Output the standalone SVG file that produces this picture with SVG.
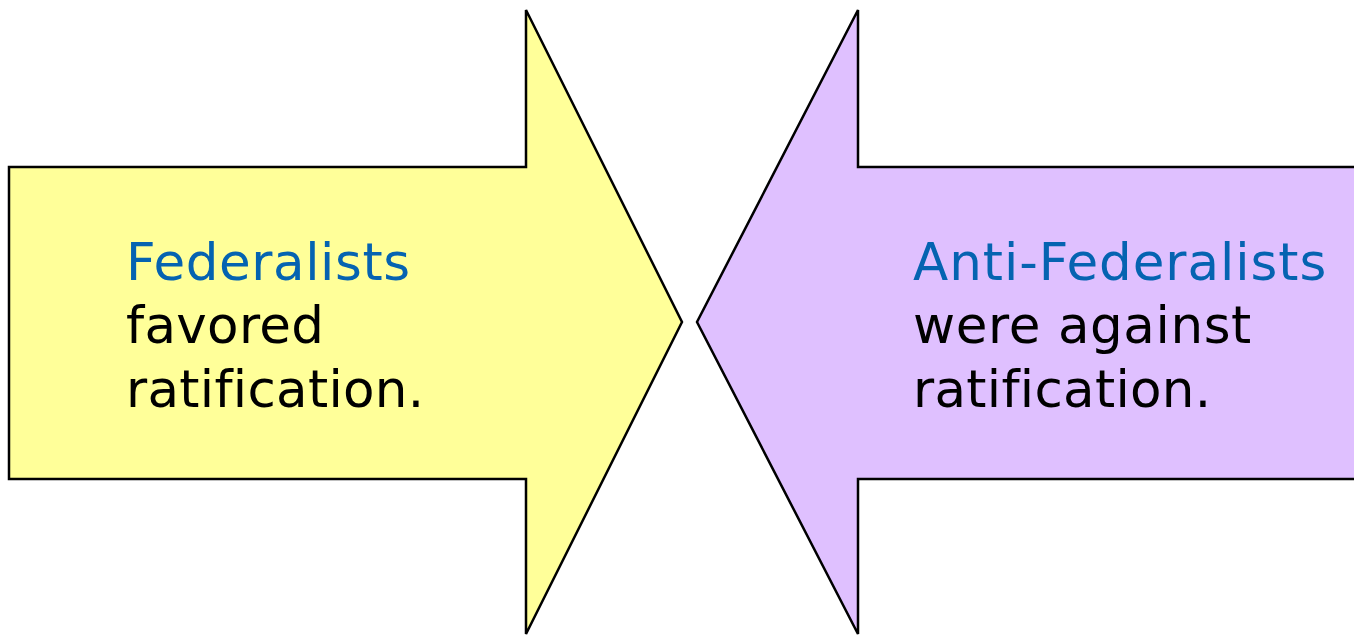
<svg xmlns="http://www.w3.org/2000/svg" width="1354" height="635" viewBox="0 0 1354 635">
<style>
.shape{stroke:#000;stroke-width:2.5;stroke-linejoin:miter}
.t{font-family:"DejaVu Sans",Verdana,sans-serif;font-size:51.5px;letter-spacing:0.3px;font-variant-ligatures:none}
.blue{fill:#0563B1}
.blk{fill:#000}
</style>
<rect width="1354" height="635" fill="#fff"/>
<g id="federalists">
<polygon class="shape" fill="#FFFF99" points="9,167 526,167 526,10 682,322 526,634 526,479 9,479"/>
<text class="t blue" x="126" y="280" style="letter-spacing:0.6px">Federalists</text>
<text class="t blk" x="126" y="343">favored</text>
<text class="t blk" x="126" y="407">ratification.</text>
</g>
<g id="anti-federalists">
<polygon class="shape" fill="#DFC0FF" points="1360,167 858,167 858,10 697,322 858,634 858,479 1360,479"/>
<text class="t blue" x="913" y="280" style="letter-spacing:0.95px">Anti-Federalists</text>
<text class="t blk" x="913" y="343" style="letter-spacing:0.6px">were against</text>
<text class="t blk" x="913" y="407">ratification.</text>
</g>
<g id="connectors"></g>
</svg>
